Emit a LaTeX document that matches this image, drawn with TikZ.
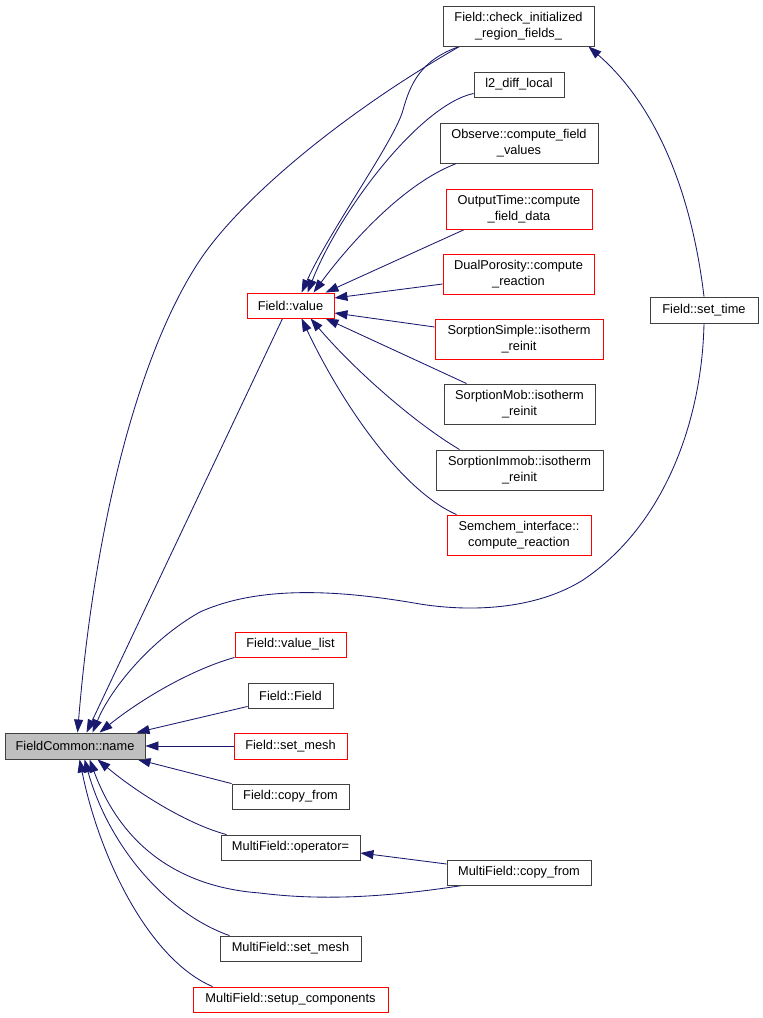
\documentclass[tikz,border=0pt]{standalone}
\usepackage{fontspec}
\setmainfont{Liberation Sans}
\usetikzlibrary{arrows.meta,backgrounds}
\definecolor{edgeblue}{HTML}{191970}
\definecolor{boxgray}{HTML}{404040}
\definecolor{fillgray}{HTML}{BFBFBF}
\definecolor{boxred}{HTML}{FF0000}
\begin{document}
\begin{tikzpicture}[x=1pt,y=-1pt,
  fn/.style={draw=boxgray, line width=0.9pt, inner sep=0pt, align=center,
    font=\fontsize{12.8}{15.5}\selectfont, fill=white},
  redfn/.style={fn, draw=boxred},
  edge/.style={draw=edgeblue, line width=0.85pt, -{Triangle[length=13pt,width=9pt]}}]
\useasboundingbox (0,0) rectangle (763,1018);

% nodes
\node[fn, fill=fillgray, minimum width=140, minimum height=26] (name) at (75,746) {FieldCommon::name};
\node[redfn, minimum width=87, minimum height=25] (value) at (290.5,305.5) {Field::value};
\node[fn, minimum width=151, minimum height=40] (chk) at (518.5,26) {Field::check\_initialized\\\_region\_fields\_};
\node[fn, minimum width=90, minimum height=25] (l2) at (519,84.5) {l2\_diff\_local};
\node[fn, minimum width=158, minimum height=40] (obs) at (519,143) {Observe::compute\_field\\\_values};
\node[redfn, minimum width=146, minimum height=40] (out) at (519,209) {OutputTime::compute\\\_field\_data};
\node[redfn, minimum width=151, minimum height=40] (dual) at (518.5,274) {DualPorosity::compute\\\_reaction};
\node[fn, minimum width=108, minimum height=26] (settime) at (704,310) {Field::set\_time};
\node[redfn, minimum width=168, minimum height=40] (ssimple) at (519,339) {SorptionSimple::isotherm\\\_reinit};
\node[fn, minimum width=151, minimum height=40] (smob) at (519.5,404) {SorptionMob::isotherm\\\_reinit};
\node[fn, minimum width=167, minimum height=40] (simmob) at (519.5,470) {SorptionImmob::isotherm\\\_reinit};
\node[redfn, minimum width=144, minimum height=40] (semchem) at (519,535) {Semchem\_interface::\\compute\_reaction};
\node[redfn, minimum width=111, minimum height=25] (vlist) at (290.5,644.5) {Field::value\_list};
\node[fn, minimum width=85, minimum height=25] (ffield) at (290.5,695.5) {Field::Field};
\node[redfn, minimum width=113, minimum height=26] (fsetmesh) at (290.5,746) {Field::set\_mesh};
\node[fn, minimum width=117, minimum height=25] (fcopy) at (290.5,796.5) {Field::copy\_from};
\node[fn, minimum width=139, minimum height=25] (mop) at (290.5,847.5) {MultiField::operator=};
\node[fn, minimum width=144, minimum height=25] (mcopy) at (519,872.5) {MultiField::copy\_from};
\node[fn, minimum width=141, minimum height=25] (msetmesh) at (290.5,948.5) {MultiField::set\_mesh};
\node[redfn, minimum width=195, minimum height=25] (msetup) at (290.5,999.5) {MultiField::setup\_components};

\begin{scope}[on background layer]
\fill[white] (0,0) rectangle (763,1018);
% edges into Field::value
\draw[edge] ([xshift=17pt]chk.south west) .. controls (420,60) and (410,85) .. (403,110)
  .. controls (395,140) and (330,230) .. ([xshift=55pt]value.north west);
\draw[edge] ([yshift=4pt]l2.south west) .. controls (420,105) and (340,210) .. ([xshift=61pt]value.north west);
\draw[edge] ([xshift=17pt]obs.south west) .. controls (400,185) and (345,250) .. ([xshift=67pt]value.north west);
\draw[edge] ([xshift=19pt]out.south west) -- ([xshift=79pt]value.north west);
\draw[edge] ([yshift=-10pt]dual.west) -- ([yshift=7.5pt]value.east);
\draw[edge] ([yshift=12pt]ssimple.west) -- ([yshift=-7.5pt]value.east);
\draw[edge] ([xshift=23pt]smob.north west) -- ([xshift=79pt]value.south west);
\draw[edge] ([xshift=24pt]simmob.north west) .. controls (410,420) and (350,365) .. ([xshift=64pt]value.south west);
\draw[edge] ([xshift=10pt]semchem.north west) .. controls (400,490) and (340,400) .. ([xshift=55pt]value.south west);

% edges into FieldCommon::name
\draw[edge] ([xshift=17pt]chk.south west) .. controls (340,115) and (240,200) .. (200,260)
  .. controls (140,350) and (95,520) .. ([xshift=73pt]name.north west);
\draw[edge] ([xshift=36pt]value.south west) -- ([xshift=82pt]name.north west);
\draw[edge] (settime.south) .. controls (702,420) and (665,525) .. (583,580)
  .. controls (535,610) and (470,612) .. (420,604)
  .. controls (340,590) and (260,585) .. (200,612)
  .. controls (150,640) and (110,690) .. ([xshift=88pt]name.north west);
\draw[edge] (vlist.south west) .. controls (190,670) and (140,700) .. ([xshift=95pt]name.north west);
\draw[edge] ([yshift=2pt]ffield.south west) -- ([xshift=132pt]name.north west);
\draw[edge] (fsetmesh.west) -- (name.east);
\draw[edge] (fcopy.north west) -- ([xshift=133pt]name.south west);
\draw[edge] ([xshift=6pt]mop.north west) .. controls (190,825) and (140,795) .. ([xshift=93pt]name.south west);
\draw[edge] ([xshift=16pt]mcopy.south west) .. controls (400,895) and (330,902) .. (260,893)
  .. controls (190,888) and (125,855) .. ([xshift=85pt]name.south west);
\draw[edge] ([xshift=10pt]msetmesh.north west) .. controls (170,915) and (110,850) .. ([xshift=80pt]name.south west);
\draw[edge] ([xshift=20pt]msetup.north west) .. controls (150,960) and (100,860) .. ([xshift=75pt]name.south west);

% other edges
\draw[edge] ([yshift=8.5pt]mcopy.west) -- ([yshift=-5.5pt]mop.east);
\draw[edge] (settime.north) .. controls (690,180) and (650,100) .. ([xshift=-6pt]chk.south east);
\end{scope}
\end{tikzpicture}
\end{document}
